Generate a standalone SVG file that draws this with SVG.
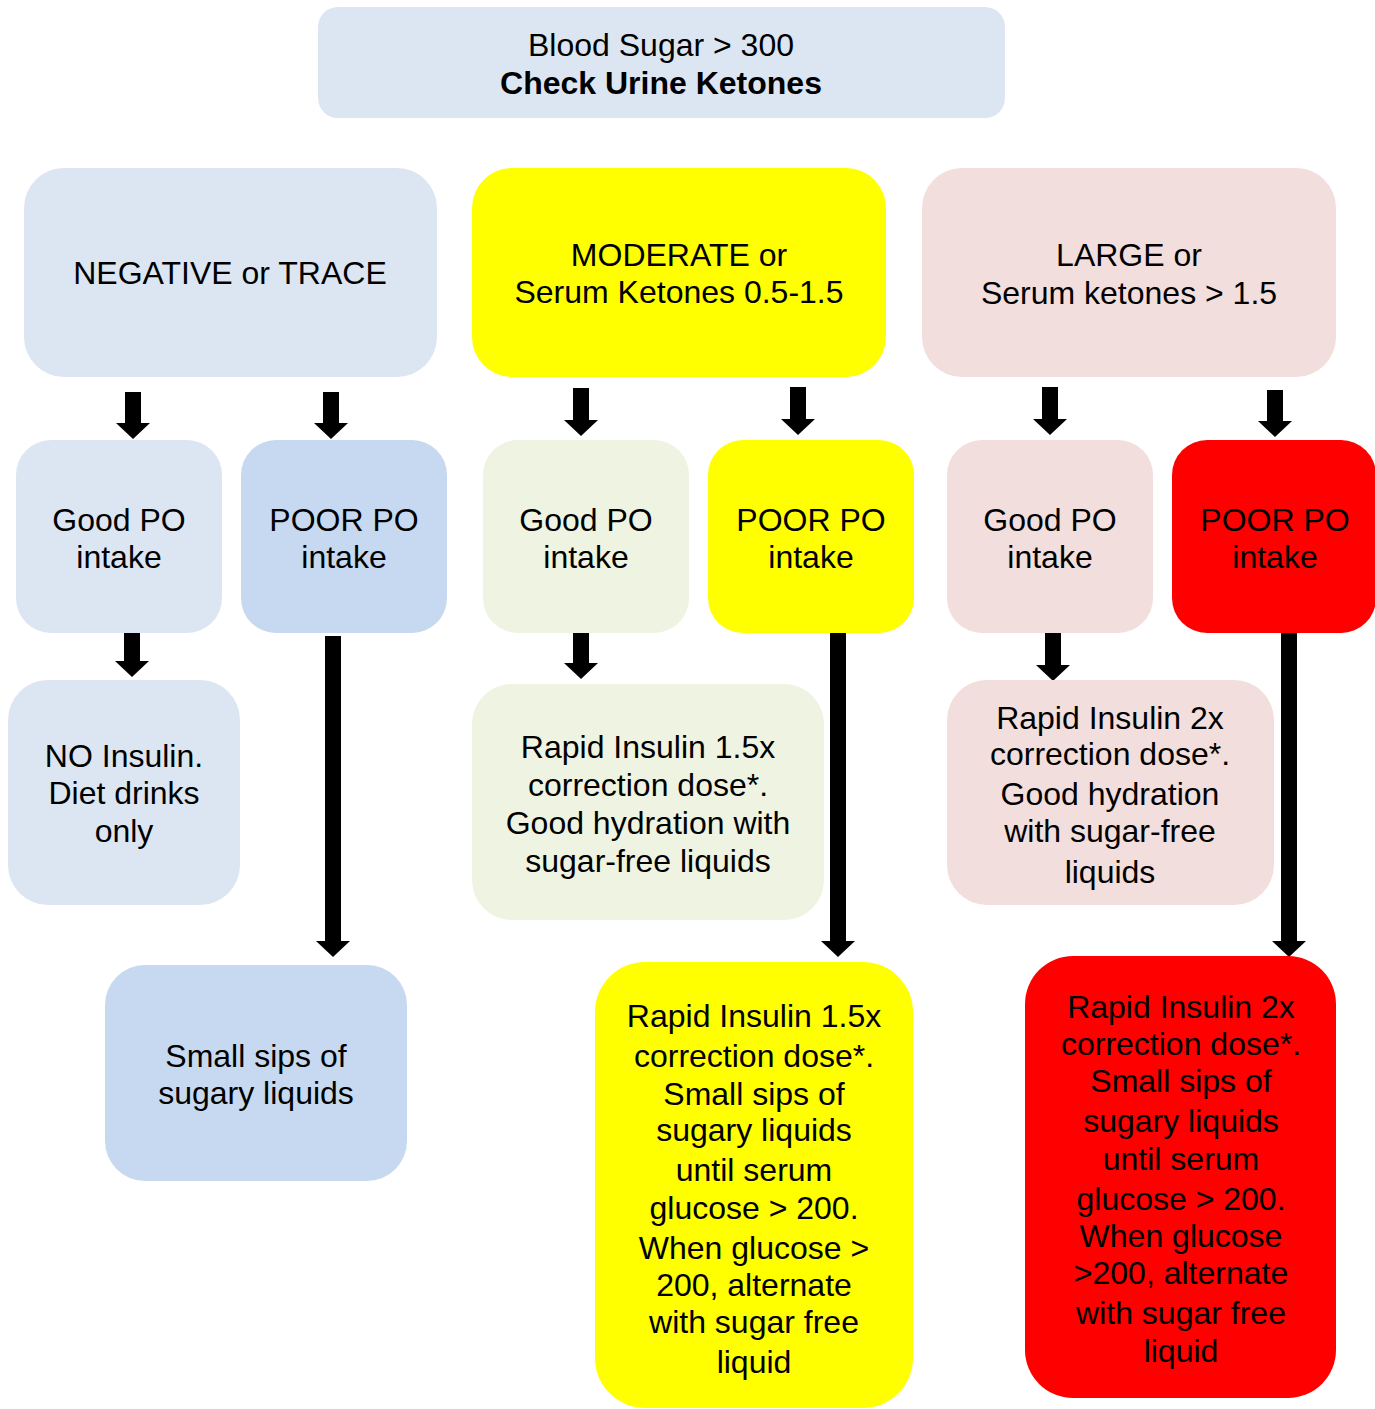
<svg xmlns="http://www.w3.org/2000/svg" width="1375" height="1409" viewBox="0 0 1375 1409">
  <style>
    .t { font-family: "Liberation Sans", Arial, sans-serif; font-size: 32px; fill: #000; text-anchor: middle; }
    .b { font-weight: bold; }
    .blue { fill: #dce6f2; }
    .blue2 { fill: #c6d9f1; }
    .green { fill: #eff3e1; }
    .yellow { fill: #ffff00; }
    .pink { fill: #f2dedc; }
    .red { fill: #ff0000; }
    .arrow { fill: #000; }
  </style>
  <rect width="1375" height="1409" fill="#ffffff"/>

  <g id="connectors">
    <polygon class="arrow" points="125,392 141,392 141,423 150,423 133,439 116,423 125,423"/>
    <polygon class="arrow" points="323,392 339,392 339,423 348,423 331,439 314,423 323,423"/>
    <polygon class="arrow" points="573,388 589,388 589,420 598,420 581,436 564,420 573,420"/>
    <polygon class="arrow" points="790,387 806,387 806,419 815,419 798,435 781,419 790,419"/>
    <polygon class="arrow" points="1042,387 1058,387 1058,419 1067,419 1050,435 1033,419 1042,419"/>
    <polygon class="arrow" points="1267,390 1283,390 1283,421 1292,421 1275,437 1258,421 1267,421"/>
    <polygon class="arrow" points="124,630 140,630 140,661 149,661 132,677 115,661 124,661"/>
    <polygon class="arrow" points="573,631 589,631 589,663 598,663 581,679 564,663 573,663"/>
    <polygon class="arrow" points="1045,633 1061,633 1061,665 1070,665 1053,681 1036,665 1045,665"/>
    <polygon class="arrow" points="325,636 341,636 341,941 350,941 333,957 316,941 325,941"/>
    <polygon class="arrow" points="830,633 846,633 846,941 855,941 838,957 821,941 830,941"/>
    <polygon class="arrow" points="1281,633 1297,633 1297,941 1306,941 1289,957 1272,941 1281,941"/>
  </g>

  <g id="start">
    <rect class="blue" x="318" y="7" width="687" height="111" rx="20"/>
    <text class="t" x="661" y="56">Blood Sugar &gt; 300</text>
    <text class="t b" x="661" y="94">Check Urine Ketones</text>
  </g>

  <g id="negative">
    <rect class="blue" x="24" y="168" width="413" height="209" rx="40"/>
    <text class="t" x="230" y="284">NEGATIVE or TRACE</text>
  </g>

  <g id="moderate">
    <rect class="yellow" x="472" y="168" width="414" height="209" rx="40"/>
    <text class="t" x="679" y="266">MODERATE or</text>
    <text class="t" x="679" y="303">Serum Ketones 0.5-1.5</text>
  </g>

  <g id="large">
    <rect class="pink" x="922" y="168" width="414" height="209" rx="40"/>
    <text class="t" x="1129" y="266">LARGE or</text>
    <text class="t" x="1129" y="304">Serum ketones &gt; 1.5</text>
  </g>

  <g id="neg-good">
    <rect class="blue" x="16" y="440" width="206" height="193" rx="35"/>
    <text class="t" x="119" y="531">Good PO</text>
    <text class="t" x="119" y="568">intake</text>
  </g>

  <g id="neg-poor">
    <rect class="blue2" x="241" y="440" width="206" height="193" rx="35"/>
    <text class="t" x="344" y="531">POOR PO</text>
    <text class="t" x="344" y="568">intake</text>
  </g>

  <g id="mod-good">
    <rect class="green" x="483" y="440" width="206" height="193" rx="35"/>
    <text class="t" x="586" y="531">Good PO</text>
    <text class="t" x="586" y="568">intake</text>
  </g>

  <g id="mod-poor">
    <rect class="yellow" x="708" y="440" width="206" height="193" rx="35"/>
    <text class="t" x="811" y="531">POOR PO</text>
    <text class="t" x="811" y="568">intake</text>
  </g>

  <g id="large-good">
    <rect class="pink" x="947" y="440" width="206" height="193" rx="35"/>
    <text class="t" x="1050" y="531">Good PO</text>
    <text class="t" x="1050" y="568">intake</text>
  </g>

  <g id="large-poor">
    <rect class="red" x="1172" y="440" width="204" height="193" rx="35"/>
    <text class="t" x="1275" y="531">POOR PO</text>
    <text class="t" x="1275" y="568">intake</text>
  </g>

  <g id="neg-good-action">
    <rect class="blue" x="8" y="680" width="232" height="225" rx="40"/>
    <text class="t" x="124" y="767">NO Insulin.</text>
    <text class="t" x="124" y="804">Diet drinks</text>
    <text class="t" x="124" y="842">only</text>
  </g>

  <g id="neg-poor-action">
    <rect class="blue2" x="105" y="965" width="302" height="216" rx="40"/>
    <text class="t" x="256" y="1067">Small sips of</text>
    <text class="t" x="256" y="1104">sugary liquids</text>
  </g>

  <g id="mod-good-action">
    <rect class="green" x="472" y="684" width="352" height="236" rx="40"/>
    <text class="t" x="648" y="758">Rapid Insulin 1.5x</text>
    <text class="t" x="648" y="796">correction dose*.</text>
    <text class="t" x="648" y="834">Good hydration with</text>
    <text class="t" x="648" y="872">sugar-free liquids</text>
  </g>

  <g id="large-good-action">
    <rect class="pink" x="947" y="680" width="327" height="225" rx="40"/>
    <text class="t" x="1110" y="729">Rapid Insulin 2x</text>
    <text class="t" x="1110" y="765">correction dose*.</text>
    <text class="t" x="1110" y="805">Good hydration</text>
    <text class="t" x="1110" y="842">with sugar-free</text>
    <text class="t" x="1110" y="883">liquids</text>
  </g>

  <g id="mod-poor-action">
    <rect class="yellow" x="595" y="962" width="318" height="446" rx="50"/>
    <text class="t" x="754" y="1027">Rapid Insulin 1.5x</text>
    <text class="t" x="754" y="1067">correction dose*.</text>
    <text class="t" x="754" y="1105">Small sips of</text>
    <text class="t" x="754" y="1141">sugary liquids</text>
    <text class="t" x="754" y="1181">until serum</text>
    <text class="t" x="754" y="1219">glucose &gt; 200.</text>
    <text class="t" x="754" y="1259">When glucose &gt;</text>
    <text class="t" x="754" y="1296">200, alternate</text>
    <text class="t" x="754" y="1333">with sugar free</text>
    <text class="t" x="754" y="1373">liquid</text>
  </g>

  <g id="large-poor-action">
    <rect class="red" x="1025" y="956" width="311" height="442" rx="48"/>
    <text class="t" x="1181" y="1018">Rapid Insulin 2x</text>
    <text class="t" x="1181" y="1055">correction dose*.</text>
    <text class="t" x="1181" y="1092">Small sips of</text>
    <text class="t" x="1181" y="1132">sugary liquids</text>
    <text class="t" x="1181" y="1170">until serum</text>
    <text class="t" x="1181" y="1210">glucose &gt; 200.</text>
    <text class="t" x="1181" y="1247">When glucose</text>
    <text class="t" x="1181" y="1284">&gt;200, alternate</text>
    <text class="t" x="1181" y="1324">with sugar free</text>
    <text class="t" x="1181" y="1362">liquid</text>
  </g>
</svg>
